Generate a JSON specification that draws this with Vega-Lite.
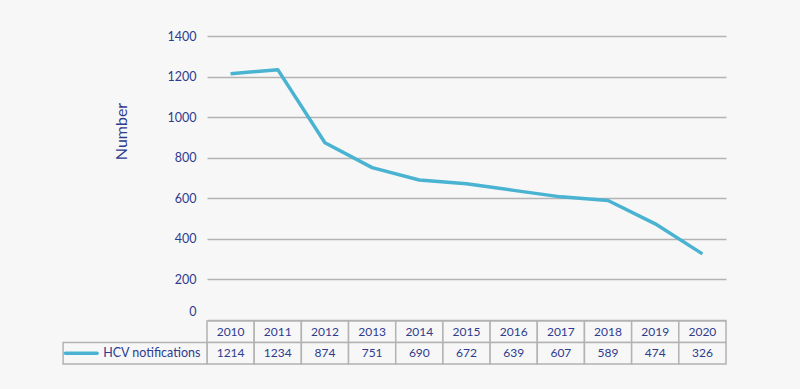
{
  "$schema": "https://vega.github.io/schema/vega-lite/v6.json",
  "background": "#f7f7f7",
  "padding": {"left": 62, "top": 30, "right": 76, "bottom": 28},
  "config": {
    "view": {"stroke": null},
    "font": "Lato",
    "text": {"font": "Lato"}
  },
  "datasets": {
    "hcv": [
      {"year": 2010, "value": 1214},
      {"year": 2011, "value": 1234},
      {"year": 2012, "value": 874},
      {"year": 2013, "value": 751},
      {"year": 2014, "value": 690},
      {"year": 2015, "value": 672},
      {"year": 2016, "value": 639},
      {"year": 2017, "value": 607},
      {"year": 2018, "value": 589},
      {"year": 2019, "value": 474},
      {"year": 2020, "value": 326}
    ],
    "series": [{"series": "HCV notifications"}]
  },
  "vconcat": [
    {
      "width": 519,
      "height": 284,
      "data": {"name": "hcv"},
      "mark": {"type": "line", "color": "#49b3d1", "strokeWidth": 3.5, "strokeJoin": "round"},
      "encoding": {
        "x": {
          "field": "year",
          "type": "quantitative",
          "scale": {"domain": [2009.5, 2020.5], "nice": false, "zero": false},
          "axis": null
        },
        "y": {
          "field": "value",
          "type": "quantitative",
          "scale": {"domain": [0, 1400], "nice": false},
          "axis": {
            "values": [0, 200, 400, 600, 800, 1000, 1200, 1400],
            "format": "d",
            "title": "Number",
            "titleColor": "#2e3b8f",
            "titleFont": "Lato",
            "titleFontSize": 16,
            "titleFontWeight": "normal",
            "titlePadding": 38,
            "titleY": 95,
            "labelColor": "#2e3b8f",
            "labelFont": "Lato",
            "labelFontSize": 12.5,
            "labelPadding": 11,
            "labelOffset": {"condition": {"test": "datum.value === 0", "value": -9}, "value": 0},
            "ticks": false,
            "domain": false,
            "grid": true,
            "gridColor": "#b3b3b3",
            "gridWidth": 1.3
          }
        }
      }
    },
    {
      "width": 519,
      "height": 43,
      "layer": [
        {
          "data": {"name": "hcv"},
          "transform": [{"bin": {"step": 1, "anchor": 0.5, "extent": [2009.5, 2020.5]}, "field": "year", "as": ["x0", "x1"]}],
          "mark": {"type": "rect", "fill": "#f7f7f7", "stroke": "#b3b3b3", "strokeWidth": 1.5},
          "encoding": {
            "x": {"field": "x0", "type": "quantitative", "scale": {"domain": [2009.5, 2020.5], "nice": false, "zero": false}, "axis": null},
            "x2": {"field": "x1"},
            "y": {"datum": "Year", "type": "nominal", "scale": {"domain": ["Year", "Value"], "paddingInner": 0, "paddingOuter": 0}, "axis": null}
          }
        },
        {
          "data": {"name": "hcv"},
          "transform": [{"bin": {"step": 1, "anchor": 0.5, "extent": [2009.5, 2020.5]}, "field": "year", "as": ["x0", "x1"]}],
          "mark": {"type": "rect", "fill": "#f7f7f7", "stroke": "#b3b3b3", "strokeWidth": 1.5},
          "encoding": {
            "x": {"field": "x0", "type": "quantitative"},
            "x2": {"field": "x1"},
            "y": {"datum": "Value", "type": "nominal"}
          }
        },
        {
          "data": {"name": "series"},
          "mark": {"type": "rect", "fill": "#f7f7f7", "stroke": "#b3b3b3", "strokeWidth": 1.5},
          "encoding": {
            "x": {"datum": 2006.45, "type": "quantitative"},
            "x2": {"datum": 2009.5},
            "y": {"datum": "Value", "type": "nominal"}
          }
        },
        {
          "data": {"name": "series"},
          "mark": {"type": "rule", "color": "#49b3d1", "strokeWidth": 3.5, "strokeCap": "round"},
          "encoding": {
            "x": {"datum": 2006.5, "type": "quantitative"},
            "x2": {"datum": 2007.17},
            "y": {"datum": "Value", "type": "nominal", "bandPosition": 0.5}
          }
        },
        {
          "data": {"name": "series"},
          "mark": {"type": "text", "align": "left", "baseline": "middle", "color": "#2e3b8f", "fontSize": 12.5, "font": "Lato"},
          "encoding": {
            "x": {"datum": 2007.3, "type": "quantitative"},
            "y": {"datum": "Value", "type": "nominal", "bandPosition": 0.5},
            "text": {"field": "series"}
          }
        },
        {
          "data": {"name": "hcv"},
          "mark": {"type": "text", "align": "center", "baseline": "middle", "color": "#2e3b8f", "fontSize": 12, "font": "Lato"},
          "encoding": {
            "x": {"field": "year", "type": "quantitative"},
            "y": {"datum": "Year", "type": "nominal", "bandPosition": 0.5},
            "text": {"field": "year", "type": "nominal"}
          }
        },
        {
          "data": {"name": "hcv"},
          "mark": {"type": "text", "align": "center", "baseline": "middle", "color": "#2e3b8f", "fontSize": 12, "font": "Lato"},
          "encoding": {
            "x": {"field": "year", "type": "quantitative"},
            "y": {"datum": "Value", "type": "nominal", "bandPosition": 0.5},
            "text": {"field": "value", "type": "nominal"}
          }
        }
      ]
    }
  ],
  "spacing": 0
}
